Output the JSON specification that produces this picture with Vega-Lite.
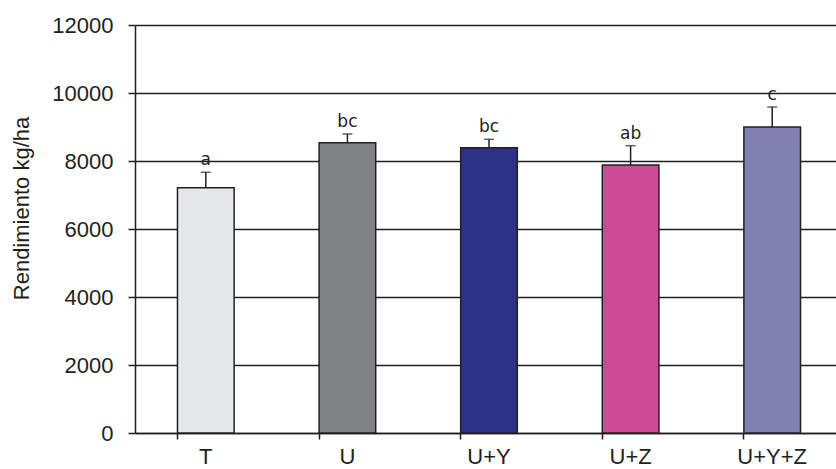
{
  "$schema": "https://vega.github.io/schema/vega-lite/v6.json",
  "width": 708,
  "height": 408,
  "autosize": {"type": "none"},
  "padding": {"left": 135, "top": 25, "right": 0, "bottom": 36},
  "background": "white",
  "config": {"view": {"stroke": null}, "font": "Liberation Sans"},
  "data": {"values": [
    {"trat": "T", "rend": 7215, "err": 7668, "letra": "a"},
    {"trat": "U", "rend": 8538, "err": 8794, "letra": "bc"},
    {"trat": "U+Y", "rend": 8391, "err": 8638, "letra": "bc"},
    {"trat": "U+Z", "rend": 7882, "err": 8450, "letra": "ab"},
    {"trat": "U+Y+Z", "rend": 9000, "err": 9588, "letra": "c"}
  ]},
  "encoding": {
    "x": {"field": "trat", "type": "nominal", "sort": null,
      "scale": {"paddingInner": 0.6, "paddingOuter": 0.3},
      "axis": {"title": null, "labelAngle": 0, "labelFontSize": 22, "labelColor": "#231f20", "labelPadding": 7,
        "domainColor": "#231f20", "domainWidth": 1.5, "tickColor": "#231f20", "tickWidth": 1.5, "tickSize": 6,
        "bandPosition": 0, "grid": false}}
  },
  "layer": [
    {
      "mark": {"type": "bar", "stroke": "#231f20", "strokeWidth": 1.5},
      "encoding": {
        "y": {"field": "rend", "type": "quantitative",
          "scale": {"domain": [0, 12000], "nice": false},
          "axis": {"title": "Rendimiento kg/ha", "titleFontSize": 22, "titleFontWeight": "normal", "titleColor": "#231f20",
            "titleAngle": -90, "titleAlign": "center", "titleBaseline": "middle", "titleX": -114, "titleY": 183,
            "values": [0, 2000, 4000, 6000, 8000, 10000, 12000], "format": "d",
            "labelFontSize": 22, "labelColor": "#231f20", "labelPadding": 15,
            "domainColor": "#231f20", "domainWidth": 1.5, "tickColor": "#231f20", "tickWidth": 1.5, "tickSize": 7,
            "grid": true, "gridColor": "#231f20", "gridWidth": 1.6, "zindex": 0}},
        "color": {"field": "trat", "type": "nominal", "legend": null,
          "scale": {"domain": ["T", "U", "U+Y", "U+Z", "U+Y+Z"],
            "range": ["#e6e7e9", "#808285", "#2e3188", "#cf4a96", "#8080b3"]}}
      }
    },
    {
      "mark": {"type": "rule", "color": "#231f20", "strokeWidth": 1.5},
      "encoding": {
        "y": {"field": "rend", "type": "quantitative"},
        "y2": {"field": "err"}
      }
    },
    {
      "mark": {"type": "tick", "color": "#231f20", "thickness": 1.5, "size": 10, "orient": "horizontal"},
      "encoding": {
        "y": {"field": "err", "type": "quantitative"}
      }
    },
    {
      "mark": {"type": "text", "baseline": "bottom", "dy": -3, "fontSize": 17, "font": "DejaVu Sans", "color": "#231f20"},
      "encoding": {
        "y": {"field": "err", "type": "quantitative"},
        "text": {"field": "letra"}
      }
    }
  ]
}
